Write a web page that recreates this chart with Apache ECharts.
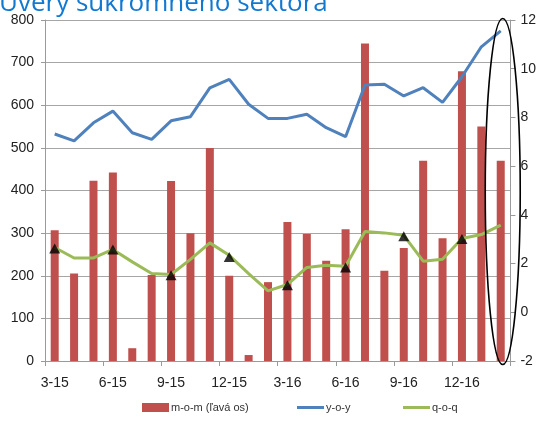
<!DOCTYPE html>
<html>
<head>
<meta charset="utf-8">
<script src="https://cdn.jsdelivr.net/npm/echarts@6/dist/echarts.min.js"></script>
<style>
  html, body { margin: 0; padding: 0; background: #fff; }
  #chart { width: 539px; height: 428px; }
</style>
</head>
<body>
<div id="chart"></div>
<script>
// Months (m-yy), March 2015 – February 2017
const months = ['3-15','4-15','5-15','6-15','7-15','8-15','9-15','10-15','11-15','12-15','1-16','2-16',
                '3-16','4-16','5-16','6-16','7-16','8-16','9-16','10-16','11-16','12-16','1-17','2-17'];
// Month-on-month change (left axis)
const mom = [307, 205, 423, 442, 30, 202, 422, 300, 500, 200, 14, 185,
             326, 298, 235, 309, 745, 212, 265, 470, 288, 680, 550, 470];
// Year-on-year growth, % (right axis)
const yoy = [7.32, 7.04, 7.78, 8.26, 7.37, 7.10, 7.86, 8.03, 9.21, 9.56, 8.54, 7.96,
             7.96, 8.13, 7.58, 7.21, 9.33, 9.36, 8.88, 9.22, 8.62, 9.67, 10.90, 11.55];
// Quarter-on-quarter growth, % (right axis)
const qoq = [2.66, 2.23, 2.23, 2.58, 2.07, 1.59, 1.55, 2.17, 2.85, 2.34, 1.59, 0.88,
             1.14, 1.84, 1.93, 1.89, 3.32, 3.26, 3.16, 2.10, 2.18, 3.03, 3.19, 3.58];
// End-of-quarter q-o-q values (triangle markers)
const quarterEnd = [2.62, null, null, 2.58, null, null, 1.52, null, null, 2.27, null, null,
                    1.11, null, null, 1.84, null, null, 3.12, null, null, 3.01, null, null];
// Axis ranges
const leftAxis = { min: 0, max: 800, step: 100 };
const rightAxis = { min: -2, max: 12, step: 2 };
const seriesNames = ['m-o-m (ľavá os)', 'y-o-y', 'q-o-q'];
const titleText = 'Úvery súkromného sektora';

const axisFont = "'Liberation Sans Narrow', 'Liberation Sans', sans-serif";
const axisGray = '#9a9a9a';
const colors = { mom: '#C0504D', yoy: '#4F81BD', qoq: '#9BBB59' };

// Thin horizontal bar used as the legend icon of the line series
const lineIcon = 'path://M0,0 L27,0 L27,3 L0,3 Z';

function legendAt(left, name, icon) {
  return {
    top: 402,
    left: left,
    padding: 0,
    itemWidth: 27,
    itemHeight: 9,
    itemGap: 0,
    selectedMode: false,
    textStyle: { fontFamily: axisFont, fontSize: 11, color: '#333', padding: [0, 0, 0, -3] },
    data: [{ name: name, icon: icon }]
  };
}

const chart = echarts.init(document.getElementById('chart'), null, { renderer: 'canvas' });

chart.setOption({
  animation: false,
  backgroundColor: '#ffffff',
  grid: { left: 45, right: 26, top: 20, bottom: 67, containLabel: false },
  legend: [
    legendAt(142, seriesNames[0], 'rect'),
    legendAt(297, seriesNames[1], lineIcon),
    legendAt(403, seriesNames[2], lineIcon)
  ],
  xAxis: {
    type: 'category',
    data: months,
    boundaryGap: true,
    axisLine: { lineStyle: { color: axisGray, width: 1 } },
    axisTick: { show: true, interval: 2, length: 5, lineStyle: { color: axisGray } },
    axisLabel: { interval: 2, margin: 15, fontFamily: axisFont, fontSize: 14, color: '#222' }
  },
  yAxis: [
    {
      type: 'value',
      min: leftAxis.min, max: leftAxis.max, interval: leftAxis.step,
      axisLine: { show: true, lineStyle: { color: axisGray } },
      axisTick: { show: true, length: 4, lineStyle: { color: axisGray } },
      axisLabel: { margin: 11, fontFamily: axisFont, fontSize: 14, color: '#222' },
      splitLine: { show: true, lineStyle: { color: '#a6a6a6', width: 1 } }
    },
    {
      type: 'value',
      position: 'right',
      min: rightAxis.min, max: rightAxis.max, interval: rightAxis.step,
      axisLine: { show: true, lineStyle: { color: axisGray } },
      axisTick: { show: true, length: 5, lineStyle: { color: axisGray } },
      axisLabel: { margin: 10, fontFamily: axisFont, fontSize: 14, color: '#222' },
      splitLine: { show: false }
    }
  ],
  series: [
    {
      name: seriesNames[0],
      type: 'bar',
      yAxisIndex: 0,
      data: mom,
      barWidth: 8,
      itemStyle: { color: colors.mom }
    },
    {
      name: seriesNames[1],
      type: 'line',
      yAxisIndex: 1,
      data: yoy,
      symbol: 'none',
      lineStyle: { color: colors.yoy, width: 3 },
      itemStyle: { color: colors.yoy }
    },
    {
      name: seriesNames[2],
      type: 'line',
      yAxisIndex: 1,
      data: qoq,
      symbol: 'none',
      lineStyle: { color: colors.qoq, width: 3 },
      itemStyle: { color: colors.qoq }
    },
    {
      name: 'quarter',
      type: 'scatter',
      yAxisIndex: 1,
      data: quarterEnd,
      symbol: 'triangle',
      symbolSize: [11, 10],
      itemStyle: { color: '#000' },
      z: 5
    }
  ],
  graphic: [
    {
      id: 'title',
      type: 'text',
      left: -1,
      top: -9,
      style: {
        text: titleText,
        font: "26px 'Open Sans', sans-serif",
        fill: '#1279D2'
      }
    }
  ]
});

// Ellipse highlighting the latest month, spanning the full plot height
const lastX = chart.convertToPixel({ xAxisIndex: 0 }, months[months.length - 1]);
const topY = chart.convertToPixel({ yAxisIndex: 0 }, leftAxis.max);
const botY = chart.convertToPixel({ yAxisIndex: 0 }, leftAxis.min);
chart.setOption({
  graphic: [
    {
      id: 'highlight',
      type: 'ellipse',
      shape: { cx: lastX + 2, cy: (topY + botY) / 2 + 1, rx: 17.5, ry: (botY - topY) / 2 + 2.5 },
      style: { fill: 'none', stroke: '#000', lineWidth: 1.6 },
      z: 10
    }
  ]
});
</script>
</body>
</html>
